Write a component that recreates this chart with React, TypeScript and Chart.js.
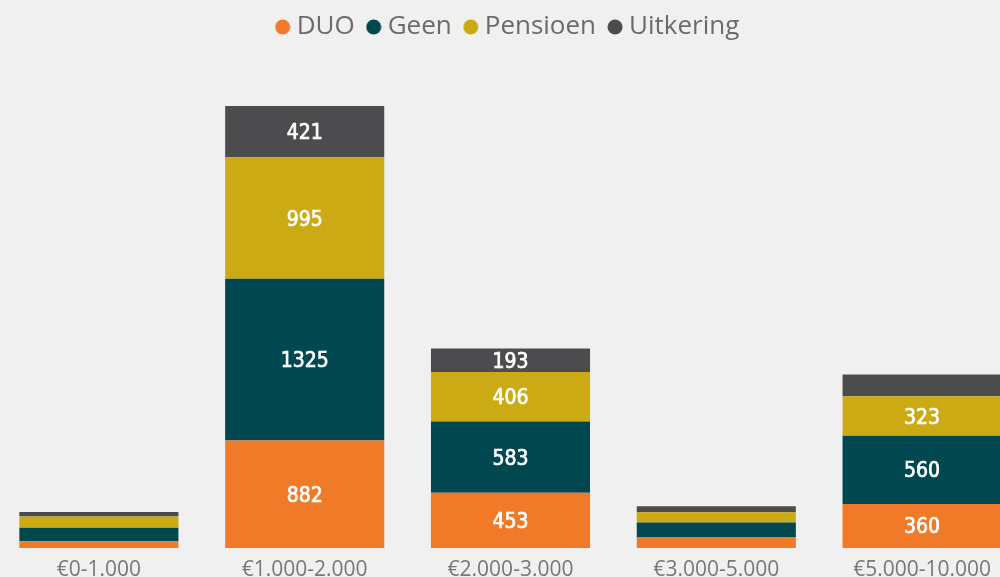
import React, { useEffect, useRef } from "react";
import { Chart, registerables } from "chart.js";

Chart.register(...registerables);

const categories = ["€0-1.000", "€1.000-2.000", "€2.000-3.000", "€3.000-5.000", "€5.000-10.000"];
const duo = [55, 882, 453, 87, 360];
const geen = [110, 1325, 583, 123, 560];
const pensioen = [93, 995, 406, 84, 323];
const uitkering = [38, 421, 193, 49, 180];

const seriesNames = ["DUO", "Geen", "Pensioen", "Uitkering"];
const seriesColors = ["#F17A28", "#01474F", "#CBAA14", "#4C4C4E"];

function makeDot(color: string): HTMLCanvasElement {
  const c = document.createElement("canvas");
  c.width = 16;
  c.height = 16;
  const g = c.getContext("2d")!;
  g.fillStyle = color;
  g.beginPath();
  g.arc(8, 8, 7.5, 0, Math.PI * 2);
  g.fill();
  return c;
}

const segmentLabels = {
  id: "segmentLabels",
  afterDatasetsDraw(chart: any) {
    const ctx = chart.ctx;
    ctx.save();
    ctx.fillStyle = "#ffffff";
    ctx.strokeStyle = "#ffffff";
    ctx.lineWidth = 0.7;
    ctx.font = "21px 'DejaVu Sans Condensed', 'DejaVu Sans'";
    ctx.textAlign = "center";
    ctx.textBaseline = "middle";
    chart.data.datasets.forEach((ds: any, di: number) => {
      const meta = chart.getDatasetMeta(di);
      meta.data.forEach((bar: any, i: number) => {
        const h = Math.abs(bar.base - bar.y);
        if (h >= 23) {
          const t = String(ds.data[i]);
          const y = (bar.y + bar.base) / 2 + 2;
          ctx.fillText(t, bar.x, y);
          ctx.strokeText(t, bar.x, y);
        }
      });
    });
    ctx.restore();
  },
};

export default function App() {
  const ref = useRef<HTMLCanvasElement>(null);
  useEffect(() => {
    if (!ref.current) return;
    const values = [duo, geen, pensioen, uitkering];
    const dots = seriesColors.map(makeDot);
    const chart = new Chart(ref.current, {
      type: "bar",
      data: {
        labels: categories,
        datasets: values.map((v, i) => ({
          label: seriesNames[i],
          data: v,
          backgroundColor: seriesColors[i],
          borderWidth: 0,
          categoryPercentage: 1,
          barPercentage: 0.773,
        })),
      },
      options: {
        responsive: false,
        animation: false,
        devicePixelRatio: 1,
        layout: { padding: { top: -4, left: 0, right: 0, bottom: 0 } },
        plugins: {
          legend: {
            position: "top",
            labels: {
              usePointStyle: true,
              pointStyleWidth: 2,
              boxHeight: 10.6,
              padding: 18,
              color: "#6b6b6b",
              font: { size: 26, family: "'Open Sans', sans-serif" },
              generateLabels: (chart: any) => {
                const items = Chart.defaults.plugins.legend.labels.generateLabels(chart);
                return items.map((it: any, i: number) => ({ ...it, pointStyle: dots[i] }));
              },
            },
          },
          tooltip: { enabled: false },
        },
        scales: {
          x: {
            stacked: true,
            grid: { display: false, drawTicks: false },
            border: { display: false },
            ticks: {
              color: "#777777",
              padding: 9,
              font: { size: 21, family: "'Open Sans', sans-serif" },
            },
            afterFit: (scale: any) => {
              scale.height = 52;
            },
          },
          y: {
            stacked: true,
            display: false,
            min: 0,
            max: 4082,
          },
        },
      },
      plugins: [segmentLabels],
    });
    return () => chart.destroy();
  }, []);
  return (
    <div style={{ position: "fixed", inset: 0, background: "#F0F0F0", overflow: "hidden" }}>
      <canvas ref={ref} width={1029} height={600} style={{ position: "absolute", left: -4, top: 0 }} />
    </div>
  );
}
